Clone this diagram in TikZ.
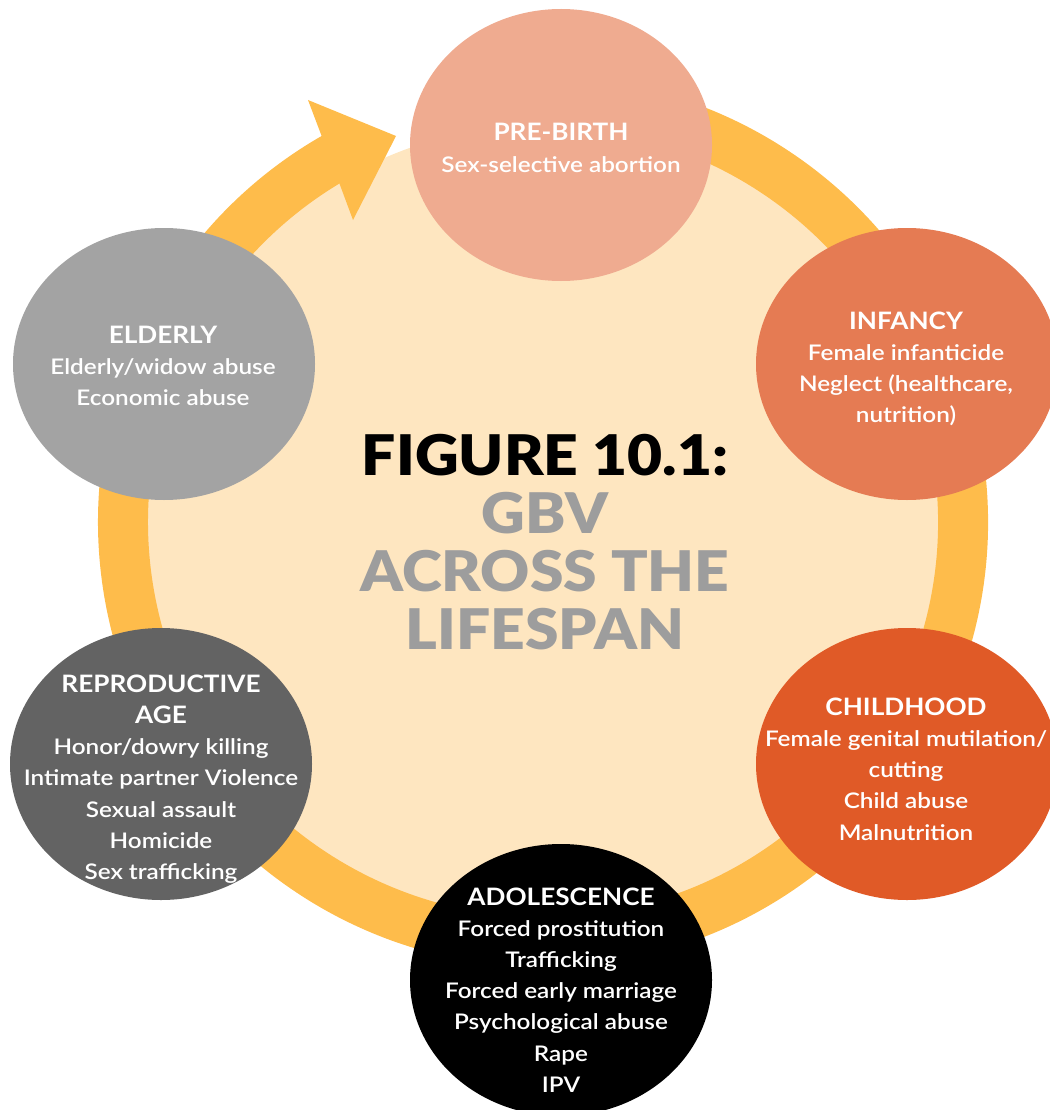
\documentclass[tikz,border=0pt]{standalone}
\usepackage{fontspec}
\setmainfont{Lato}
\newfontfamily\blackfont[FakeStretch=1.08]{Lato Black}
\newfontfamily\semifont[FakeStretch=1.13]{Lato Semibold}
\newfontfamily\boldfont[FakeStretch=1.09]{Lato Bold}
\usetikzlibrary{calc}
\definecolor{ringcol}{HTML}{FEBC4B}
\definecolor{creamcol}{HTML}{FEE6C0}
\definecolor{precol}{HTML}{EFAB90}
\definecolor{infcol}{HTML}{E57B53}
\definecolor{childcol}{HTML}{E05A27}
\definecolor{adolcol}{HTML}{000000}
\definecolor{reprocol}{HTML}{636363}
\definecolor{eldcol}{HTML}{A3A3A3}
\definecolor{titlegray}{HTML}{9D9D9D}
\newcommand{\hd}[1]{{\boldfont\fontsize{24}{31}\selectfont #1}}
\tikzset{
  stagetext/.style={inner sep=0pt, text=white, align=center,
    font=\semifont\fontsize{21.5}{31.2}\selectfont},
  blob/.style={x radius=151, y radius=136},
}
\begin{document}
\begin{tikzpicture}[x=1pt,y=1pt]
\useasboundingbox (0,0) rectangle (1049,-1110);
\coordinate (c) at (543,-522);
\fill[creamcol] (c) circle[radius=397];
\draw[ringcol, line width=50pt] ($(c)+(100:420)$) arc[start angle=100, end angle=-240.5, radius=420];
\fill[ringcol] (322,-137) -- (308,-100) -- (396,-136) -- (353,-220) -- (340,-185) -- cycle;
% ellipses
\fill[precol] (561,-145) ellipse[blob];
\fill[infcol] (907,-364) ellipse[blob];
\fill[childcol] (907,-764) ellipse[blob];
\fill[adolcol] (561,-980) ellipse[blob];
\fill[reprocol] (161,-764) ellipse[blob];
\fill[eldcol] (164,-364) ellipse[blob];
% texts
\node[stagetext] (pre) at (561,-148) {\hd{PRE-BIRTH}\\Sex-selective abortion};
\node[stagetext] (inf) at (906,-369) {\hd{INFANCY}\\Female infanticide\\Neglect (healthcare,\\nutrition)};
\node[stagetext] (child) at (906,-769) {\hd{CHILDHOOD}\\Female genital mutilation/\\cutting\\Child abuse\\Malnutrition};
\node[stagetext] (adol) at (561,-990) {\hd{ADOLESCENCE}\\Forced prostitution\\Trafficking\\Forced early marriage\\Psychological abuse\\Rape\\IPV};
\node[stagetext] (repro) at (161,-779) {\hd{REPRODUCTIVE}\\\hd{AGE}\\Honor/dowry killing\\Intimate partner Violence\\Sexual assault\\Homicide\\Sex trafficking};
\node[stagetext] (eld) at (163,-366) {\hd{ELDERLY}\\Elderly/widow abuse\\Economic abuse};
\node[align=center, inner sep=0pt, font=\blackfont\fontsize{56}{58}\selectfont] (title) at (545,-542)
  {FIGURE 10.1:\\\textcolor{titlegray}{GBV}\\\textcolor{titlegray}{ACROSS THE}\\\textcolor{titlegray}{LIFESPAN}};
\end{tikzpicture}
\end{document}
